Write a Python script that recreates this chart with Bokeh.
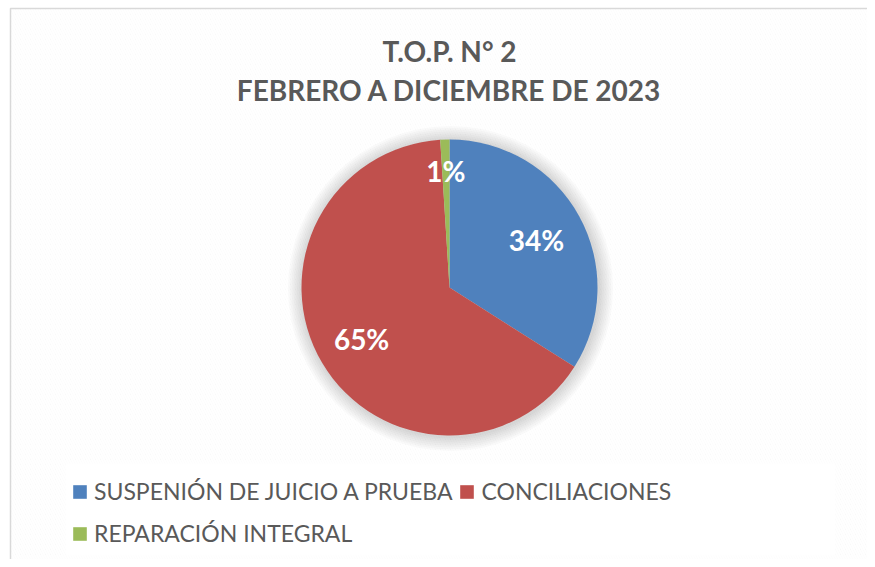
import numpy as np
from bokeh.plotting import figure
from bokeh.models import Range1d, ColumnDataSource, Legend, LegendItem
from bokeh.core.properties import value
from bokeh.embed import file_html
from bokeh.resources import INLINE

# ---- data ----
categories = ["SUSPENIÓN DE JUICIO A PRUEBA", "CONCILIACIONES", "REPARACIÓN INTEGRAL"]
percents = [34, 65, 1]
colors = ["#4f81bd", "#c0504d", "#9bbb59"]
title_lines = ["T.O.P. N° 2", "FEBRERO A DICIEMBRE DE 2023"]

W, H = 867, 559
p = figure(width=W, height=H, output_backend="svg", toolbar_location=None,
           x_range=Range1d(0, W), y_range=Range1d(0, H), min_border=0)
p.axis.visible = False
p.grid.visible = False
p.outline_line_color = None
p.background_fill_color = "#ffffff"
p.border_fill_color = "#ffffff"

# chart area background with subtle diagonal texture and border
p.quad(left=10, right=W + 20, bottom=-20, top=H - 8, fill_color="#f4f4f4",
       hatch_pattern="left_diagonal_line", hatch_color="#ffffff", hatch_weight=2,
       hatch_scale=5, line_color="#d9d9d9", line_width=1.5)

# pie geometry
cx, cy, R = 449, 272, 148

# soft shadow
for k in range(8):
    p.circle(x=[cx + 1], y=[cy - 1], radius=R + 2 + k * 1.8, fill_color="#000000",
             fill_alpha=0.018, line_color=None)

fr = np.array(percents, dtype=float) / sum(percents)
cum = np.concatenate([[0], np.cumsum(fr)])
start = np.pi / 2 - cum[1:] * 2 * np.pi
end = np.pi / 2 - cum[:-1] * 2 * np.pi
mid = (start + end) / 2
label_frac = [0.67, 0.69, 0.79]
lx = cx + np.array(label_frac) * R * np.cos(mid)
ly = cy + np.array(label_frac) * R * np.sin(mid)

src = ColumnDataSource(dict(start=start, end=end, color=colors, cat=categories,
                            lx=lx, ly=ly, lab=[f"{v}%" for v in percents]))
wr = p.wedge(x=cx, y=cy, radius=R, start_angle="start", end_angle="end",
             fill_color="color", line_color=None, source=src)

p.text(x="lx", y="ly", text="lab", source=src, text_color="#ffffff",
       text_font=value("Lato"), text_font_style="bold", text_font_size="28px",
       text_align="center", text_baseline="middle")

# title
p.text(x=[449, 449], y=[509, 470], text=title_lines, text_color="#595959",
       text_font=value("Lato"), text_font_style="bold", text_font_size="28px",
       text_align="center", text_baseline="middle")

# legend background box
p.quad(left=65, right=835, bottom=4, top=96, fill_color="#ffffff",
       fill_alpha=0.85, line_color=None)

items = [LegendItem(label=c, renderers=[wr], index=i) for i, c in enumerate(categories)]
legend = Legend(items=items, ncols=2, location=(71, 8), orientation="horizontal",
                glyph_width=17, glyph_height=17, label_standoff=6,
                label_text_font="Lato", label_text_font_size="23px",
                label_text_color="#595959", label_height=36, spacing=6,
                padding=0, margin=0, background_fill_alpha=0,
                border_line_color=None)
p.add_layout(legend, "center")

open("out.html", "w").write(file_html(p, INLINE))
